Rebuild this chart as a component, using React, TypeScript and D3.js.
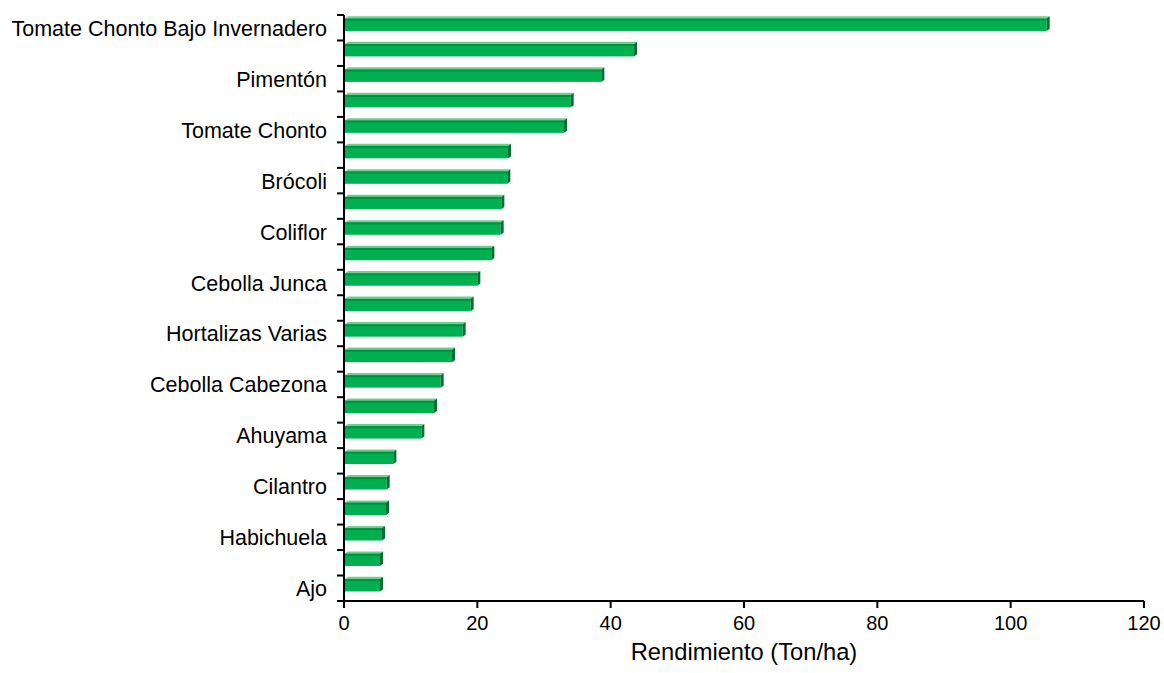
import React from "react";
import * as d3 from "d3";

const categories: string[] = [
  "Tomate Chonto Bajo Invernadero", "", "Pimentón", "", "Tomate Chonto", "",
  "Brócoli", "", "Coliflor", "", "Cebolla Junca", "", "Hortalizas Varias", "",
  "Cebolla Cabezona", "", "Ahuyama", "", "Cilantro", "", "Habichuela", "", "Ajo",
];
const values: number[] = [
  105.4, 43.5, 38.6, 34.0, 33.0, 24.6, 24.5, 23.6, 23.5, 22.1, 20.0, 19.0,
  17.8, 16.2, 14.5, 13.5, 11.6, 7.4, 6.4, 6.3, 5.7, 5.4, 5.4,
];
const xTicks: number[] = [0, 20, 40, 60, 80, 100, 120];
const xTitle = "Rendimiento (Ton/ha)";

const W = 1164;
const H = 673;
const left = 344;
const right = 1144;
const top = 15;
const bottom = 601;

export default function App() {
  const ids = categories.map((_, i) => String(i));
  const x = d3.scaleLinear().domain([0, 120]).range([left, right]);
  const y = d3.scaleBand<string>().domain(ids).range([top, bottom]).paddingInner(0).paddingOuter(0);
  const bw = y.bandwidth();
  const barH = 12.4;
  const dx = 3;
  const dy = 2.2;
  const font = "'Liberation Sans', Arial, sans-serif";
  const boundaries = d3.range(ids.length + 1).map((i) => top + i * bw);

  return (
    <svg width={W} height={H} style={{ position: "absolute", left: 0, top: 0 }} fontFamily={font}>
      <rect x={0} y={0} width={W} height={H} fill="#ffffff" />
      {values.map((v, i) => {
        const yc = (y(String(i)) as number) + bw / 2 - 3;
        const y0 = yc - barH / 2;
        const x0 = x(0) + 1;
        const x1 = x(v);
        const topFace = `M${x0},${y0} L${x1},${y0} L${x1 + dx},${y0 - dy} L${x0 + dx},${y0 - dy} Z`;
        const side = `M${x1},${y0} L${x1 + dx},${y0 - dy} L${x1 + dx},${y0 + barH - dy} L${x1},${y0 + barH} Z`;
        return (
          <g key={i}>
            <path d={topFace} fill="#6fcf8f" />
            <rect x={x0} y={y0} width={x1 - x0} height={barH} fill="#00b050" />
            <rect x={x0} y={y0} width={x1 - x0} height={2} fill="#00913f" />
            <path d={side} fill="#00702f" />
          </g>
        );
      })}
      {/* y axis */}
      <line x1={left} x2={left} y1={top} y2={bottom} stroke="#000" strokeWidth={2} />
      {boundaries.map((b, i) => (
        <line key={i} x1={left - 7} x2={left} y1={b} y2={b} stroke="#000" strokeWidth={2} />
      ))}
      {categories.map((c, i) =>
        c ? (
          <text key={i} x={327} y={(y(String(i)) as number) + bw / 2 + 1} textAnchor="end" dominantBaseline="central" fontSize={21.5} fill="#000">
            {c}
          </text>
        ) : null
      )}
      {/* x axis */}
      <line x1={left} x2={right} y1={bottom} y2={bottom} stroke="#000" strokeWidth={2} />
      {xTicks.map((t) => (
        <g key={t}>
          <line x1={x(t)} x2={x(t)} y1={bottom} y2={bottom + 7} stroke="#000" strokeWidth={2} />
          <text x={x(t)} y={630} textAnchor="middle" fontSize={20} fill="#000">
            {t}
          </text>
        </g>
      ))}
      <text x={(left + right) / 2} y={660} textAnchor="middle" fontSize={23.7} fill="#000">
        {xTitle}
      </text>
    </svg>
  );
}
